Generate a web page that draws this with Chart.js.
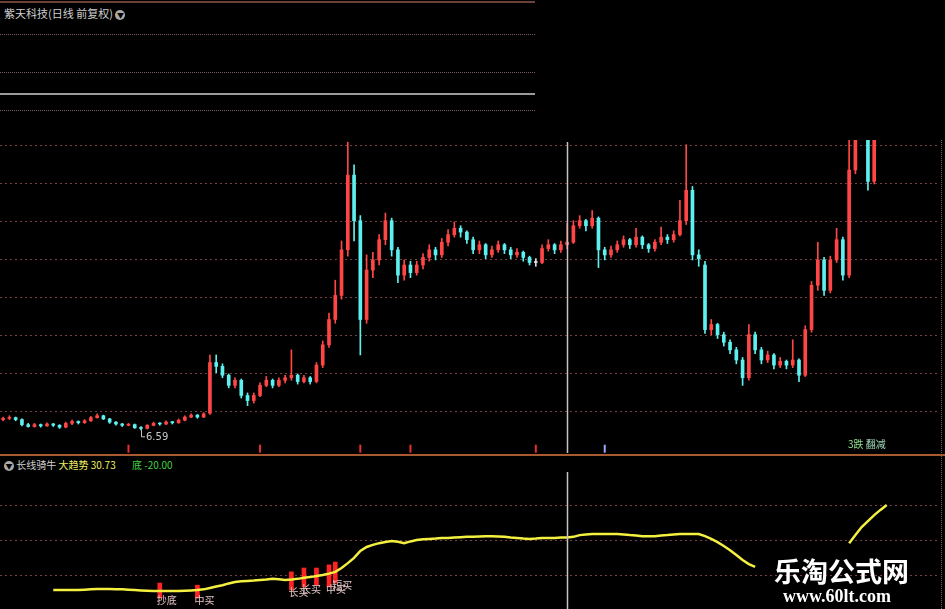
<!DOCTYPE html>
<html>
<head>
<meta charset="utf-8">
<script src="https://cdn.jsdelivr.net/npm/chart.js@4.4.0/dist/chart.umd.min.js"></script>
<style>
body{margin:0;background:#000;width:945px;height:609px;overflow:hidden;position:relative;font-family:"Noto Sans CJK SC","Noto Sans",sans-serif;}
.abs{position:absolute;}
.hl{position:absolute;left:0;width:535px;height:0;}
.dot{border-top:1px dotted #7a5a5a;}
#main{position:absolute;left:0;top:140px;width:945px;height:313px;}
#sub{position:absolute;left:0;top:470px;width:945px;height:139px;}
.ico{display:inline-block;width:10px;height:10px;border-radius:50%;background:#aaa;color:#000;font-size:7px;line-height:10px;text-align:center;vertical-align:middle;}
</style>
</head>
<body>
<div class="hl" style="top:1px;border-top:2px solid #6a4038;"></div>
<div class="hl dot" style="top:34px;"></div>
<div class="hl dot" style="top:72px;"></div>
<div class="hl" style="top:93px;border-top:2px solid #9a9a9a;"></div>
<div class="hl dot" style="top:110px;"></div>
<div class="abs" style="left:4px;top:5px;font-size:11px;color:#cfcfcf;">紫天科技(日线 前复权) <span class="ico">▼</span></div>

<div id="main"><canvas id="mainChart"></canvas></div>
<div class="abs" style="left:848px;top:438px;font-size:10px;line-height:12px;"><span style="color:#8fe08f;">3跌</span> <span style="color:#9fd8b8;">翻减</span></div>
<div class="abs" style="left:0;top:454px;width:945px;height:2px;background:#a85a30;"></div>
<div class="abs" style="left:941px;top:140px;height:469px;border-left:1px dotted #7a5a5a;"></div>
<div class="abs" style="left:4px;top:457px;font-size:10px;color:#cfcfcf;white-space:nowrap;">
  <span class="ico">▼</span> 长线骑牛 <span style="color:#f0f060;">大趋势 30.73</span>
  <span style="color:#40d040;margin-left:14px;">底 -20.00</span>
</div>
<div id="sub"><canvas id="subChart"></canvas></div>

<div class="abs" style="left:774px;top:551px;font-size:27px;font-weight:bold;color:#fff;">乐淘公式网</div>
<div class="abs" style="left:783px;top:586px;font-size:18px;font-weight:bold;color:#fff;font-family:'Liberation Serif','DejaVu Serif',serif;">www.60lt.com</div>

<script>
// daily candles
const N = 150;
const days = Array.from({length: N}, (_, i) => 'D' + (i + 1));

const opens = [
  7.4, 7.5, 7.55, 7.4, 7.0, 6.85, 7.0, 6.9, 7.05, 6.95,
  6.8, 7.1, 7.25, 7.15, 7.3, 7.55, 7.7, 7.45, 7.2, 7.05,
  6.95, 7.0, 6.75, 6.7, 6.95, 7.1, 7.05, 7.2, 7.15, 7.35,
  7.6, 7.75, 7.6, 7.9, 11.9, 11.6, 10.9, 10.1, 10.5, 9.3,
  8.9, 9.3, 10.1, 10.5, 10.1, 10.5, 10.7, 10.9, 10.4, 10.7,
  10.4, 11.7, 13.3, 15.3, 17.2, 20.8, 26.7, 23.1, 15.3, 19.2,
  20.0, 21.6, 23.1, 20.8, 18.8, 19.6, 19.0, 19.6, 20.2, 20.8,
  20.4, 21.4, 22.0, 22.5, 22.2, 21.6, 20.8, 21.2, 20.4, 20.8,
  21.2, 20.8, 20.4, 20.6, 20.2, 19.8, 19.8, 20.9, 21.2, 20.8,
  21.2, 21.4, 22.7, 23.1, 22.7, 23.3, 20.8, 20.4, 20.8, 21.2,
  21.6, 21.2, 21.8, 21.2, 20.9, 21.4, 21.8, 21.6, 22.0, 23.1,
  25.5, 20.4, 19.6, 14.5, 14.9, 14.1, 13.5, 12.9, 12.1, 10.7,
  14.1, 12.9, 12.1, 12.5, 11.7, 12.0, 11.7, 12.1, 10.9, 14.5,
  18.0, 20.0, 17.6, 20.0, 21.6, 18.8, 27.1, 31.5, 32.5, 26.2
];
const closes = [
  7.5, 7.55, 7.4, 7.0, 6.85, 7.0, 6.9, 7.05, 6.95, 6.8,
  7.1, 7.25, 7.15, 7.3, 7.55, 7.7, 7.45, 7.2, 7.05, 6.95,
  7.0, 6.75, 6.7, 6.95, 7.1, 7.05, 7.2, 7.15, 7.35, 7.6,
  7.75, 7.6, 7.85, 11.9, 11.6, 10.9, 10.1, 10.5, 9.3, 8.9,
  9.3, 10.1, 10.5, 10.1, 10.5, 10.7, 10.9, 10.4, 10.7, 10.4,
  11.7, 13.3, 15.3, 17.2, 20.8, 26.7, 23.1, 15.3, 19.2, 20.0,
  21.6, 23.1, 20.8, 18.8, 19.6, 19.0, 19.6, 20.2, 20.8, 20.4,
  21.4, 22.0, 22.5, 22.2, 21.6, 20.8, 21.2, 20.4, 20.8, 21.2,
  20.8, 20.4, 20.6, 20.2, 19.8, 19.8, 20.9, 21.2, 20.8, 21.2,
  21.4, 22.7, 23.1, 22.7, 23.3, 20.8, 20.4, 20.8, 21.2, 21.6,
  21.2, 21.8, 21.2, 20.9, 21.4, 21.8, 21.6, 22.0, 23.1, 25.5,
  20.4, 20.1, 14.5, 14.9, 14.1, 13.5, 12.9, 12.1, 10.7, 14.1,
  12.9, 12.1, 12.5, 11.7, 12.0, 11.7, 12.1, 10.9, 14.5, 18.0,
  20.0, 17.6, 20.0, 21.6, 18.8, 27.1, 31.5, 32.5, 26.2, 30.5
];
const highs = [
  7.6, 7.7, 7.6, 7.45, 7.1, 7.1, 7.05, 7.15, 7.1, 7.0,
  7.2, 7.35, 7.3, 7.4, 7.65, 7.85, 7.75, 7.5, 7.25, 7.1,
  7.1, 7.05, 6.85, 7.0, 7.2, 7.15, 7.3, 7.25, 7.45, 7.7,
  7.85, 7.8, 7.95, 12.5, 12.5, 11.8, 11.0, 10.7, 10.6, 9.5,
  9.5, 10.3, 10.8, 10.6, 10.7, 10.9, 12.9, 11.0, 10.9, 10.8,
  11.9, 13.6, 15.8, 18.4, 21.5, 29.3, 27.5, 23.5, 20.4, 20.6,
  22.0, 23.7, 23.3, 21.0, 20.0, 19.9, 19.9, 20.5, 21.2, 21.0,
  21.7, 22.4, 23.0, 22.7, 22.3, 21.8, 21.5, 21.3, 21.1, 21.5,
  21.3, 21.0, 20.9, 20.7, 20.3, 20.1, 21.2, 21.6, 21.3, 21.5,
  22.9, 23.1, 23.5, 23.2, 23.9, 23.4, 21.0, 21.1, 21.5, 21.9,
  21.7, 22.5, 21.9, 21.3, 21.6, 22.6, 22.0, 22.3, 24.7, 29.1,
  25.8, 20.8, 19.9, 15.3, 15.0, 14.3, 13.7, 13.1, 12.3, 14.9,
  14.3, 13.1, 12.8, 12.6, 12.3, 12.1, 13.7, 12.2, 14.8, 18.3,
  21.4, 20.2, 20.3, 22.5, 21.8, 30.0, 33.0, 34.0, 33.0, 32.0
];
const lows = [
  7.3, 7.4, 7.3, 6.9, 6.8, 6.8, 6.8, 6.85, 6.85, 6.7,
  6.75, 7.0, 7.05, 7.1, 7.25, 7.5, 7.4, 7.1, 6.95, 6.85,
  6.9, 6.7, 6.59, 6.65, 6.9, 6.95, 7.0, 7.05, 7.1, 7.3,
  7.55, 7.5, 7.55, 7.8, 11.1, 10.7, 9.9, 9.9, 9.1, 8.5,
  8.7, 9.2, 10.0, 9.9, 10.0, 10.3, 10.5, 10.2, 10.3, 10.2,
  10.3, 11.5, 13.1, 15.0, 16.9, 20.3, 21.5, 12.5, 15.0, 18.6,
  19.6, 21.2, 20.3, 18.2, 18.4, 18.6, 18.8, 19.3, 19.9, 20.0,
  20.2, 21.1, 21.8, 21.8, 21.3, 20.5, 20.5, 20.1, 20.2, 20.6,
  20.5, 20.1, 20.2, 19.9, 19.6, 19.5, 19.7, 20.7, 20.5, 20.6,
  20.9, 21.3, 22.5, 22.3, 22.5, 19.4, 20.0, 20.2, 20.6, 21.0,
  20.9, 21.0, 20.9, 20.6, 20.7, 21.2, 21.3, 21.4, 21.9, 22.8,
  20.0, 19.5, 14.2, 14.1, 13.8, 13.2, 12.6, 11.8, 10.1, 10.5,
  12.6, 11.8, 11.9, 11.4, 11.5, 11.4, 11.5, 10.4, 10.8, 14.3,
  17.6, 17.2, 17.4, 19.8, 18.4, 18.6, 26.8, 31.0, 25.5, 26.0
];

// 长线骑牛 indicator (大趋势 line)
const trend = [
  null, null, null, null, null, null, null, null, 15.7, 15.7,
  15.7, 15.7, 15.7, 15.8, 15.9, 16.0, 16.0, 16.0, 15.9, 15.9,
  15.8, 15.7, 15.6, 15.5, 15.4, 15.4, 15.4, 15.4, 15.4, 15.5,
  15.6, 15.7, 15.9, 16.3, 16.7, 17.1, 17.6, 18.0, 18.2, 18.3,
  18.4, 18.6, 18.7, 18.9, 18.8, 18.6, 18.7, 18.9, 19.2, 19.4,
  19.7, 20.0, 20.4, 20.9, 22.0, 23.4, 24.9, 26.9, 28.0, 28.6,
  29.1, 29.4, 29.7, 29.5, 29.1, 29.6, 30.0, 30.2, 30.3, 30.4,
  30.6, 30.6, 30.7, 30.8, 30.9, 30.9, 31.0, 31.1, 31.1, 31.0,
  30.9, 30.7, 30.6, 30.4, 30.3, 30.4, 30.6, 30.6, 30.6, 30.7,
  30.73, 30.9, 31.4, 31.6, 31.7, 31.7, 31.7, 31.7, 31.7, 31.6,
  31.4, 31.3, 31.1, 31.1, 31.1, 31.3, 31.4, 31.6, 31.7, 31.7,
  31.7, 31.7, 31.1, 30.3, 29.4, 28.3, 27.1, 25.7, 24.3, 23.1,
  22.3, null, null, null, null, null, null, null, null, null,
  null, null, null, null, null, 29.1, 31.4, 33.7, 35.4, 37.1,
  38.6, 40.0, null, null, null, null, null, null, null, null
];

const crossIdx = 90;
const lowIdx = 22;
const mainTicks = [8, 11, 14, 17, 20, 23, 26, 29];
const subTicks = [20, 30, 40];

// small signal marks under the candles
const markIdx = [20, 41, 57, 65, 85, 96];
const markLevel = 5.1;

// buy signals in the lower panel
const sigIdx = [25, 31, 46, 48, 50, 52, 53];
const sigLow = [13.4, 13.4, 15.7, 16.6, 17.1, 16.6, 17.7];
const sigHigh = [17.7, 17.1, 20.9, 22.0, 22.0, 22.9, 23.7];
const sigText = ['抄底', '中买', '长买', '长买', '', '中买', '短买'];

const wicks = days.map((d, i) => i < closes.length ? [lows[i], highs[i]] : null);
const bodies = days.map((d, i) => i < closes.length ? [opens[i], closes[i]] : null);
const candleColor = days.map((d, i) => {
  if (i >= closes.length) return '#000';
  if (closes[i] > opens[i]) return '#ff4646';
  if (closes[i] < opens[i]) return '#5ef0f0';
  return '#e0e0e0';
});
const marks = days.map((d, i) => markIdx.includes(i) ? markLevel : null);
const markColor = days.map((d, i) => i === 96 ? '#9aa8ff' : '#e83030');
const sigBars = days.map((d, i) => {
  const j = sigIdx.indexOf(i);
  return j < 0 ? null : [sigLow[j], sigHigh[j]];
});

const gridColor = 'rgba(150,80,80,0.8)';

const crossLine = {
  id: 'crossLine',
  afterDatasetsDraw(chart) {
    const {ctx, chartArea: a, scales: {x}} = chart;
    const px = Math.round(x.getPixelForValue(crossIdx)) + 0.5;
    ctx.save();
    ctx.strokeStyle = '#c4c4c4';
    ctx.lineWidth = 1.5;
    ctx.beginPath();
    ctx.moveTo(px, a.top + 2);
    ctx.lineTo(px, a.bottom);
    ctx.stroke();
    ctx.restore();
  }
};

const lowLabel = {
  id: 'lowLabel',
  afterDatasetsDraw(chart) {
    const {ctx, scales: {x, y}} = chart;
    const px = x.getPixelForValue(lowIdx);
    const py = y.getPixelForValue(lows[lowIdx]);
    ctx.save();
    ctx.strokeStyle = '#c8c8c8';
    ctx.lineWidth = 1;
    ctx.beginPath();
    ctx.moveTo(px + 0.5, py);
    ctx.lineTo(px + 0.5, py + 7);
    ctx.lineTo(px + 4, py + 7);
    ctx.stroke();
    ctx.fillStyle = '#c8c8c8';
    ctx.font = '10px "DejaVu Sans"';
    ctx.textBaseline = 'middle';
    ctx.fillText(lows[lowIdx].toFixed(2), px + 5, py + 8);
    ctx.restore();
  }
};

const sigLabels = {
  id: 'sigLabels',
  afterDatasetsDraw(chart) {
    const {ctx, scales: {x, y}} = chart;
    ctx.save();
    ctx.fillStyle = '#e4c4c4';
    ctx.font = '10px "Noto Sans CJK SC"';
    ctx.textBaseline = 'top';
    sigIdx.forEach((k, j) => {
      if (!sigText[j]) return;
      ctx.fillText(sigText[j], x.getPixelForValue(k) - 3, y.getPixelForValue(sigLow[j]) - 3);
    });
    ctx.restore();
  }
};

function yAxis(min, max, ticks) {
  return {
    min: min,
    max: max,
    afterBuildTicks: s => { s.ticks = ticks.map(v => ({value: v})); },
    afterFit: s => { s.width = 0; },
    ticks: {display: false},
    grid: {color: gridColor, lineWidth: 1, drawTicks: false},
    border: {display: false, dash: [2, 3]}
  };
}

Chart.defaults.animation = false;

new Chart(document.getElementById('mainChart'), {
  type: 'bar',
  data: {
    labels: days,
    datasets: [
      {
        data: bodies,
        backgroundColor: candleColor,
        barThickness: 3,
        minBarLength: 1,
        grouped: false,
        order: 0
      },
      {
        data: wicks,
        backgroundColor: candleColor,
        barThickness: 1,
        grouped: false,
        order: 1
      },
      {
        type: 'line',
        data: marks,
        showLine: false,
        pointStyle: 'line',
        rotation: 90,
        pointRadius: 4,
        pointBorderWidth: 2,
        pointBorderColor: markColor,
        order: 2
      }
    ]
  },
  options: {
    responsive: true,
    maintainAspectRatio: false,
    layout: {autoPadding: false, padding: {left: 0, right: 5, top: 0, bottom: 0}},
    plugins: {legend: {display: false}, tooltip: {enabled: false}},
    scales: {
      x: {type: 'category', display: false, offset: true},
      y: yAxis(4.76, 29.47, mainTicks)
    }
  },
  plugins: [crossLine, lowLabel]
});

new Chart(document.getElementById('subChart'), {
  type: 'line',
  data: {
    labels: days,
    datasets: [
      {
        data: trend,
        borderColor: '#f4f040',
        borderWidth: 2.5,
        pointRadius: 0,
        spanGaps: false,
        order: 0
      },
      {
        type: 'bar',
        data: sigBars,
        backgroundColor: '#ff2424',
        barThickness: 4,
        grouped: false,
        order: 1
      }
    ]
  },
  options: {
    responsive: true,
    maintainAspectRatio: false,
    layout: {autoPadding: false, padding: {left: 0, right: 5, top: 0, bottom: 0}},
    plugins: {legend: {display: false}, tooltip: {enabled: false}},
    scales: {
      x: {type: 'category', display: false, offset: true},
      y: yAxis(10.29, 50, subTicks)
    }
  },
  plugins: [crossLine, sigLabels]
});
</script>
</body>
</html>
